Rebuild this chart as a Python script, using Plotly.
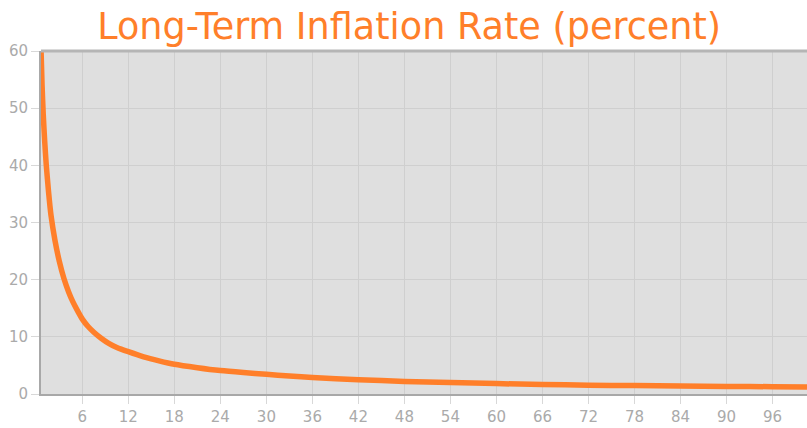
import plotly.graph_objects as go

years = [0.62, 0.75, 0.9, 1.1, 1.3, 1.6, 1.92, 2.44, 3.0, 3.6, 4.2, 4.74, 5.4, 6, 6.75, 7.5, 8.5,
         9.5, 10.5, 12, 14, 16, 18, 21, 24, 27, 30, 33, 36, 42, 48, 54, 60, 66, 72, 78, 84, 90,
         96, 100.5]
rate = [60, 54, 49, 44, 40, 35.3, 31.2, 26.8, 23.2, 20.2, 17.9, 16.2, 14.5, 13.1, 11.8, 10.8,
        9.7, 8.8, 8.15, 7.4, 6.5, 5.8, 5.2, 4.6, 4.1, 3.75, 3.45, 3.15, 2.9, 2.5, 2.2, 2.0, 1.82,
        1.66, 1.55, 1.47, 1.4, 1.33, 1.28, 1.24]
x_ticks = list(range(6, 97, 6))
y_ticks = [0, 10, 20, 30, 40, 50, 60]
title_text = "Long-Term Inflation Rate (percent)"

orange = "#ff7f2a"
fig = go.Figure()
fig.add_trace(go.Scatter(x=years, y=rate, mode="lines",
                         line=dict(color=orange, width=5.5, shape="spline", smoothing=0.6),
                         hoverinfo="skip"))
fig.update_layout(
    width=807, height=428,
    margin=dict(l=41, r=0, t=51, b=34),
    paper_bgcolor="white", plot_bgcolor="#dfdfdf",
    showlegend=False,
    font=dict(family="DejaVu Sans", color="#aaaaaa", size=15),
    title=dict(text=title_text, x=0.507, xanchor="center", y=0.938, yanchor="middle",
               font=dict(family="DejaVu Sans", size=36.6, color=orange)),
)
fig.update_xaxes(range=[0.61, 100.5], tickvals=x_ticks, ticktext=[str(v) for v in x_ticks],
                 showgrid=True, gridcolor="#cfcfcf", gridwidth=1, zeroline=False,
                 showline=True, linecolor="#a8a8a8", linewidth=2,
                 ticks="outside", ticklen=8, tickcolor="#d8d8d8", tickwidth=1,
                 tickfont=dict(size=15, color="#aaaaaa"))
fig.update_yaxes(range=[0, 60], tickvals=y_ticks, ticktext=[str(v) for v in y_ticks],
                 showgrid=True, gridcolor="#cfcfcf", gridwidth=1, zeroline=False,
                 showline=True, linecolor="#a8a8a8", linewidth=2,
                 ticks="outside", ticklen=8, tickcolor="#d8d8d8", tickwidth=1,
                 tickfont=dict(size=15, color="#aaaaaa"))
fig.add_shape(type="line", xref="paper", yref="paper", x0=0, x1=1, y0=1, y1=1,
              line=dict(color="#b5b5b5", width=3))
fig.write_html("out.html", config={"displayModeBar": False},
               post_script="document.body.style.margin='0';document.body.style.overflow='hidden';")
